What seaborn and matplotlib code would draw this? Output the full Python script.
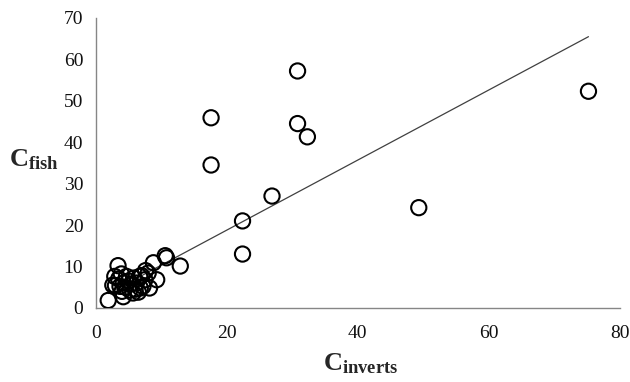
import numpy as np
import pandas as pd
import seaborn as sns
import matplotlib.pyplot as plt

# valores
c_inverts = [75.2, 49.3, 30.8, 30.8, 32.3, 17.6, 17.6, 26.9, 22.4, 22.4,
             12.9, 10.6, 10.8, 8.8, 9.3, 8.0, 8.2, 1.9, 3.4, 2.6,
             2.9, 4.2, 3.7, 5.7, 6.7, 6.2, 7.2, 4.7, 3.9, 5.2,
             4.2, 7.5, 4.0, 5.0, 6.0, 7.0, 6.5, 3.5, 5.5, 7.6,
             4.5, 6.8, 5.8, 3.0]
c_fish = [52.3, 24.2, 57.2, 44.5, 41.3, 45.9, 34.5, 27.0, 21.0, 13.0,
          10.1, 12.6, 12.1, 10.9, 6.8, 8.4, 4.8, 1.8, 10.2, 5.5,
          7.6, 2.7, 5.2, 3.6, 7.6, 6.0, 5.2, 7.6, 8.2, 4.3,
          6.0, 6.8, 4.0, 6.5, 4.5, 7.8, 3.8, 7.0, 5.8, 9.0,
          5.0, 4.8, 7.2, 5.4]

# linha de tendencia
trend_slope = 0.846
trend_intercept = 1.86

df = pd.DataFrame({'inv': c_inverts, 'fish': c_fish})
xs = np.array([min(c_inverts), max(c_inverts)])
df_t = pd.DataFrame({'inv': xs, 'fish': trend_slope * xs + trend_intercept})

sns.set_style('white')
plt.rcParams['font.family'] = ['Liberation Serif', 'DejaVu Serif']
plt.rcParams['mathtext.fontset'] = 'custom'
plt.rcParams['mathtext.rm'] = 'Liberation Serif'
plt.rcParams['mathtext.bf'] = 'Liberation Serif:bold'

fig = plt.figure(figsize=(6.3, 3.82), dpi=100)
ax = fig.add_axes([0.152, 0.194, 0.832, 0.759])

sns.lineplot(data=df_t, x='inv', y='fish', color='#404040', linewidth=0.9, ax=ax)
sns.scatterplot(data=df, x='inv', y='fish', s=120, facecolor='none',
                edgecolor='black', linewidth=1.5, ax=ax, zorder=3)

ax.set_xlim(0, 80)
ax.set_ylim(0, 70)
ax.set_xticks(range(0, 81, 20))
ax.set_yticks(range(0, 71, 10))
for s in ['top', 'right']:
    ax.spines[s].set_visible(False)
for s in ['left', 'bottom']:
    ax.spines[s].set_color('#868686')
    ax.spines[s].set_linewidth(1)
ax.tick_params(axis='both', direction='out', length=5, width=1, color='#868686',
               labelsize=14, labelcolor='#111111')
ax.tick_params(axis='x', pad=7)
ax.tick_params(axis='y', pad=4)

ax.set_xlabel(r'$\mathbf{C_{inverts}}$', fontsize=19)
ax.set_ylabel(r'$\mathbf{C_{fish}}$', fontsize=19, rotation=0)
ax.xaxis.set_label_coords(0.505, -0.15)
ax.yaxis.set_label_coords(-0.118, 0.47)

plt.savefig('out.png', dpi=100)
